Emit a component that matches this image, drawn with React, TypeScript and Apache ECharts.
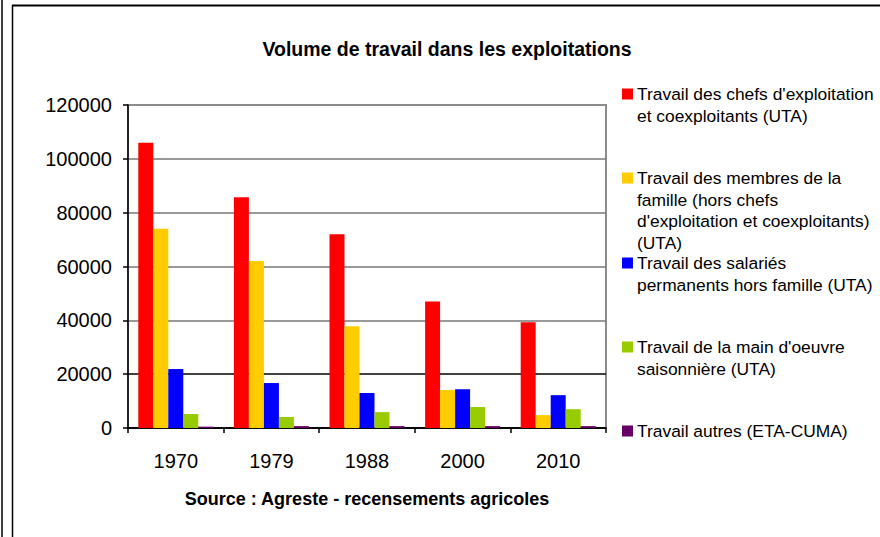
import React, { useEffect, useRef } from "react";
import * as echarts from "echarts";

const years = ["1970", "1979", "1988", "2000", "2010"];
const chefs = [106000, 85700, 72000, 47000, 39300];
const membres = [74000, 62000, 37800, 14100, 4800];
const salaries = [21900, 16700, 13000, 14400, 12200];
const saisonniers = [5200, 4100, 5900, 7800, 7000];
const autres = [500, 700, 700, 700, 700];

const seriesNames = [
  "Travail des chefs d'exploitation et coexploitants (UTA)",
  "Travail des membres de la famille (hors chefs d'exploitation et coexploitants) (UTA)",
  "Travail des salariés permanents hors famille (UTA)",
  "Travail de la main d'oeuvre saisonnière (UTA)",
  "Travail autres (ETA-CUMA)",
];
const legendLines = [
  ["Travail des chefs d'exploitation", "et coexploitants (UTA)"],
  ["Travail des membres de la", "famille (hors chefs", "d'exploitation et coexploitants)", "(UTA)"],
  ["Travail des salariés", "permanents hors famille (UTA)"],
  ["Travail de la main d'oeuvre", "saisonnière (UTA)"],
  ["Travail autres (ETA-CUMA)"],
];
const colors = ["#FF0000", "#FFCC00", "#0000FF", "#99CC00", "#660066"];
const seriesData = [chefs, membres, salaries, saisonniers, autres];

const FONT = "'Liberation Sans', Arial, sans-serif";

export default function App() {
  const ref = useRef<HTMLDivElement>(null);
  useEffect(() => {
    if (!ref.current) return;
    const chart = echarts.init(ref.current, null, { renderer: "svg" });
    const legendTop = [94, 178, 263, 347, 431];
    const lh = 21.7;
    const legendGraphics: any[] = [];
    legendLines.forEach((lines, i) => {
      legendGraphics.push({
        type: "rect",
        shape: { x: 622, y: legendTop[i] - 5.5, width: 11, height: 11 },
        style: { fill: colors[i] },
      });
      legendGraphics.push({
        type: "text",
        x: 637,
        y: legendTop[i] - lh / 2,
        style: {
          text: lines.join("\n"),
          font: `17.4px ${FONT}`,
          fill: "#000",
          verticalAlign: "top",
          lineHeight: lh,
        },
      });
    });
    chart.setOption({
      animation: false,
      backgroundColor: "#fff",
      textStyle: { fontFamily: FONT },
      title: [
        {
          text: "Volume de travail dans les exploitations",
          left: 442,
          top: 44,
          textAlign: "center",
          textVerticalAlign: "middle",
          textStyle: { fontSize: 19.5, fontWeight: "bold", color: "#000", fontFamily: FONT },
        },
        {
          text: "Source : Agreste - recensements agricoles",
          left: 362,
          top: 494,
          textAlign: "center",
          textVerticalAlign: "middle",
          textStyle: { fontSize: 18, fontWeight: "bold", color: "#000", fontFamily: FONT },
        },
      ],
      legend: { show: false, data: seriesNames },
      grid: {
        left: 128,
        right: 274,
        top: 105,
        bottom: 109,
        show: true,
        borderColor: "#8c8c8c",
        borderWidth: 2,
        backgroundColor: "transparent",
      },
      xAxis: {
        type: "category",
        data: years,
        axisLine: { lineStyle: { color: "#000", width: 1.5 } },
        axisTick: { show: true, length: 5, lineStyle: { color: "#000", width: 1.5 } },
        axisLabel: { fontSize: 20, color: "#000", margin: 23, fontFamily: FONT },
      },
      yAxis: {
        type: "value",
        min: 0,
        max: 120000,
        interval: 20000,
        axisLine: { show: true, lineStyle: { color: "#000", width: 1.5 } },
        axisTick: { show: true, length: 5, lineStyle: { color: "#000", width: 1.5 } },
        axisLabel: {
          fontSize: 20,
          color: "#000",
          margin: 16,
          fontFamily: FONT,
          formatter: (v: number) => String(v),
        },
        splitLine: {
          show: true,
          lineStyle: {
            color: ["#000", "#000", "#777", "#777", "#777", "#777", "#8c8c8c"],
            width: 1.5,
          },
        },
      },
      series: seriesData.map((d, i) => ({
        name: seriesNames[i],
        type: "bar",
        data: d,
        barWidth: 15,
        barGap: "0%",
        itemStyle: { color: colors[i] },
      })),
      graphic: [
        { type: "line", shape: { x1: 2, y1: 0, x2: 2, y2: 537 }, style: { stroke: "#000", lineWidth: 1.5 } },
        { type: "line", shape: { x1: 12.5, y1: 5, x2: 12.5, y2: 537 }, style: { stroke: "#000", lineWidth: 1.5 } },
        { type: "line", shape: { x1: 12, y1: 5.5, x2: 880, y2: 5.5 }, style: { stroke: "#000", lineWidth: 2 } },
        ...legendGraphics,
      ],
    });
    return () => chart.dispose();
  }, []);
  return <div ref={ref} style={{ width: 880, height: 537, position: "absolute", left: 0, top: 0 }} />;
}
